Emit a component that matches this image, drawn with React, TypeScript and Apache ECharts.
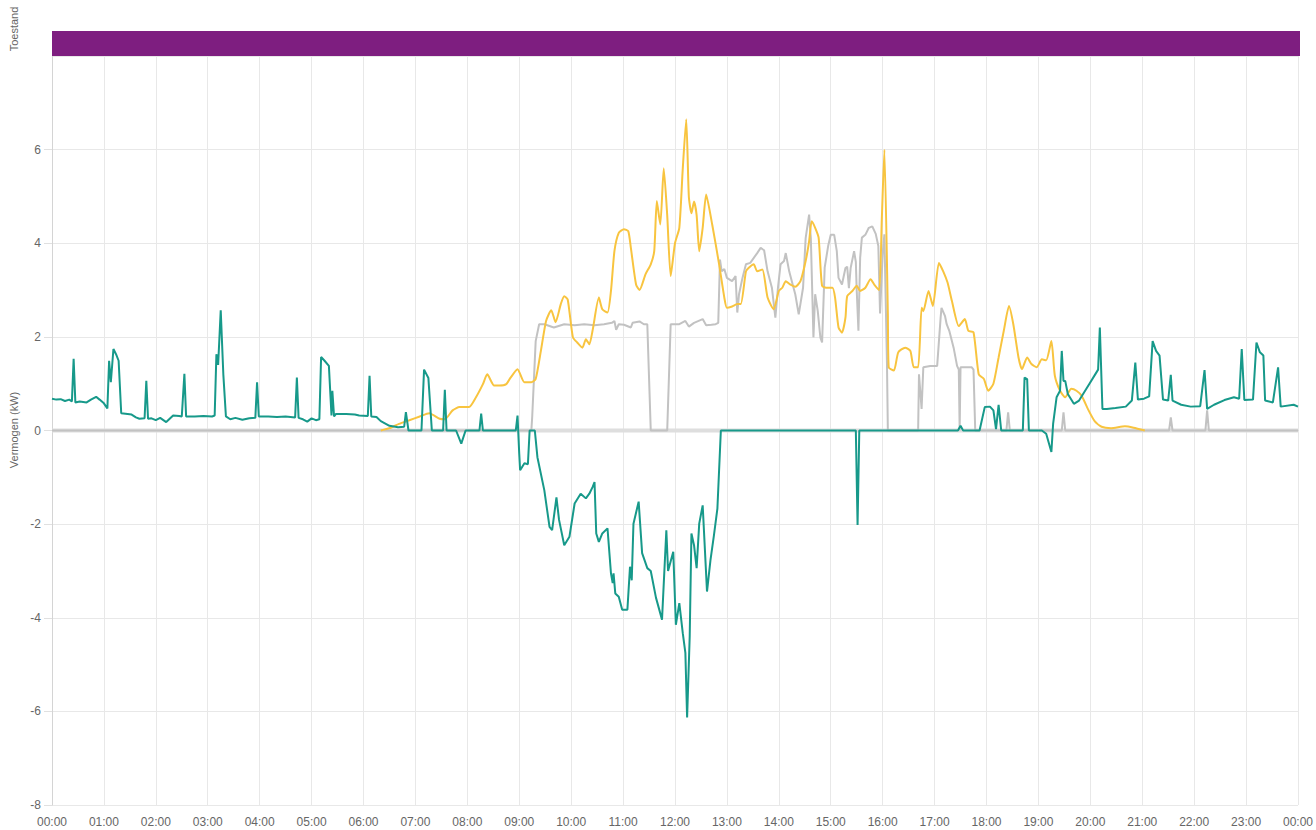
import React, { useEffect, useRef } from "react";
import * as echarts from "echarts";

// time in minutes since 00:00, value in kW
const tealData: [number, number][] = [
  [0, 0.68], [5, 0.66], [10, 0.67], [15, 0.63], [20, 0.66], [23, 0.62], [25, 1.53], [27, 0.6], [32, 0.62], [40, 0.6],
  [45, 0.66], [51, 0.72], [55, 0.66], [60, 0.58], [64, 0.47], [66, 1.49], [68, 1.03], [71, 1.74], [74, 1.63], [77, 1.49],
  [80, 0.37], [85, 0.36], [92, 0.34], [97, 0.28], [101, 0.25], [107, 0.26], [109, 1.06], [111, 0.25], [115, 0.26], [120, 0.22],
  [125, 0.27], [132, 0.18], [136, 0.25], [140, 0.32], [147, 0.31], [150, 0.3], [153, 1.21], [155, 0.3], [165, 0.3], [175, 0.31],
  [185, 0.3], [188, 0.32], [190, 1.63], [192, 1.4], [195, 2.57], [198, 1.2], [201, 0.3], [206, 0.24], [212, 0.27], [220, 0.23],
  [228, 0.26], [235, 0.27], [237, 1.03], [239, 0.3], [250, 0.3], [260, 0.29], [270, 0.3], [281, 0.28], [283, 1.13], [285, 0.27],
  [290, 0.24], [295, 0.19], [300, 0.26], [305, 0.22], [309, 0.24], [311, 1.57], [315, 1.49], [320, 1.38], [323, 0.32], [324, 0.85],
  [326, 0.3], [328, 0.35], [340, 0.35], [350, 0.34], [355, 0.32], [365, 0.31], [367, 1.17], [369, 0.3], [375, 0.29], [380, 0.2],
  [390, 0.1], [400, 0.07], [407, 0.08], [409, 0.39], [412, 0], [427, 0], [430, 1.3], [435, 1.12], [439, 0], [452, 0],
  [454, 0.87], [456, 0], [467, 0], [473, -0.28], [478, 0], [494, 0], [496, 0.36], [498, 0], [536, 0], [538, 0.32],
  [540, -0.5], [541, -0.85], [546, -0.7], [550, -0.72], [552, 0], [558, 0], [561, -0.57], [569, -1.28], [575, -2.06], [578, -2.13],
  [583, -1.43], [586, -1.91], [592, -2.45], [598, -2.27], [604, -1.56], [611, -1.35], [617, -1.45], [621, -1.35], [625, -1.2], [627, -1.1],
  [629, -2.2], [632, -2.38], [636, -2.2], [642, -2.09], [646, -3.05], [648, -3.26], [649, -3.05], [651, -3.48], [655, -3.55], [659, -3.83],
  [665, -3.83], [668, -2.91], [670, -3.2], [672, -1.99], [678, -1.52], [682, -2.62], [688, -2.94], [692, -3.0], [698, -3.57], [705, -4.04],
  [710, -2.13], [712, -3.0], [718, -2.59], [721, -4.15], [725, -3.69], [729, -4.33], [732, -4.75], [734, -6.13], [737, -4.4], [739, -2.2],
  [742, -2.45], [745, -2.94], [748, -1.99], [752, -1.6], [757, -3.44], [761, -2.77], [765, -2.24], [769, -1.67], [773, 0], [929, 0],
  [931, -2.02], [933, 0], [1047, 0], [1050, 0.1], [1053, 0], [1072, 0], [1078, 0.5], [1084, 0.51], [1088, 0.43], [1091, 0.03],
  [1094, 0.55], [1097, 0], [1122, 0], [1124, 1.13], [1127, 1.1], [1129, 0], [1144, 0], [1149, -0.07], [1155, -0.46], [1157, 0.14],
  [1161, 0.71], [1165, 0.85], [1167, 1.7], [1169, 1.06], [1171, 1.06], [1174, 0.78], [1181, 0.57], [1187, 0.64], [1199, 1.0], [1206, 1.21],
  [1209, 1.3], [1211, 2.2], [1214, 0.46], [1219, 0.46], [1229, 0.48], [1241, 0.51], [1248, 0.64], [1252, 1.45], [1255, 0.66], [1262, 0.68],
  [1268, 0.73], [1272, 1.91], [1276, 1.7], [1280, 1.6], [1284, 0.66], [1290, 0.64], [1293, 1.19], [1295, 0.64], [1305, 0.55], [1316, 0.51],
  [1327, 0.52], [1332, 1.29], [1335, 0.46], [1343, 0.55], [1355, 0.65], [1366, 0.71], [1372, 0.68], [1375, 1.74], [1378, 0.65], [1388, 0.66],
  [1392, 1.88], [1396, 1.67], [1400, 1.6], [1402, 0.64], [1411, 0.6], [1417, 1.35], [1420, 0.51], [1435, 0.55], [1440, 0.51],
];

const yellowData: [number, number][] = [
  [380, 0], [390, 0.05], [401, 0.14], [413, 0.22], [425, 0.3], [436, 0.37], [448, 0.25], [454, 0.24], [463, 0.43], [471, 0.5],
  [482, 0.5], [490, 0.71], [498, 0.99], [503, 1.2], [511, 0.96], [517, 0.96], [525, 0.99], [530, 1.13], [538, 1.31], [546, 1.03],
  [554, 1.03], [559, 1.1], [565, 1.7], [571, 2.34], [577, 2.57], [582, 2.31], [588, 2.7], [592, 2.87], [596, 2.8], [602, 1.99],
  [607, 1.88], [613, 1.77], [617, 1.95], [621, 1.84], [625, 2.16], [632, 2.84], [636, 2.59], [642, 2.52], [646, 2.98], [650, 3.83],
  [655, 4.22], [661, 4.3], [666, 4.26], [669, 3.9], [675, 3.12], [679, 3.0], [686, 3.34], [692, 3.55], [696, 3.83], [699, 4.9],
  [703, 4.4], [707, 5.6], [711, 4.6], [715, 3.3], [720, 4.0], [725, 4.33], [729, 5.6], [733, 6.65], [736, 5.0], [739, 4.64],
  [742, 4.89], [745, 4.6], [748, 3.83], [752, 4.33], [756, 5.04], [763, 4.4], [771, 3.55], [777, 2.84], [780, 2.62], [786, 2.65],
  [792, 2.7], [796, 2.7], [802, 3.4], [805, 3.47], [811, 3.55], [815, 3.4], [821, 3.44], [827, 2.84], [834, 2.59], [840, 2.98],
  [844, 3.05], [848, 3.19], [853, 3.12], [859, 3.07], [865, 3.19], [871, 3.62], [875, 4.04], [878, 4.47], [882, 4.33], [886, 4.12],
  [890, 3.09], [896, 3.05], [902, 3.05], [905, 2.84], [909, 2.2], [913, 2.09], [917, 2.41], [919, 2.87], [925, 2.98], [930, 3.09],
  [934, 2.98], [940, 3.05], [946, 3.23], [951, 3.1], [956, 3.0], [959, 4.5], [962, 6.0], [966, 2.5], [967, 1.35], [973, 1.28],
  [978, 1.67], [986, 1.77], [992, 1.7], [996, 1.35], [1001, 1.35], [1005, 2.62], [1007, 2.55], [1013, 2.98], [1018, 2.66], [1025, 3.58],
  [1030, 3.4], [1035, 3.16], [1040, 2.77], [1048, 2.23], [1055, 2.38], [1059, 2.13], [1065, 2.1], [1071, 1.2], [1077, 1.1], [1082, 0.85],
  [1088, 1.0], [1094, 1.56], [1100, 2.13], [1106, 2.66], [1111, 2.27], [1117, 1.56], [1121, 1.31], [1127, 1.56], [1132, 1.42], [1138, 1.35],
  [1144, 1.52], [1149, 1.5], [1155, 1.91], [1159, 1.17], [1165, 0.85], [1171, 0.71], [1178, 0.89], [1184, 0.85], [1190, 0.74], [1198, 0.43],
  [1205, 0.2], [1213, 0.08], [1224, 0.05], [1240, 0.09], [1250, 0.06], [1263, 0],
];

const grayData: [number, number][] = [
  [0, 0], [554, 0], [555, 0.3], [559, 1.91], [563, 2.27], [569, 2.27], [580, 2.2], [592, 2.27], [604, 2.25], [615, 2.27],
  [627, 2.25], [638, 2.27], [647, 2.3], [650, 2.34], [652, 2.15], [655, 2.27], [661, 2.26], [669, 2.2], [671, 2.3], [679, 2.33],
  [684, 2.27], [688, 2.27], [692, 0], [711, 0], [715, 2.27], [725, 2.27], [732, 2.34], [736, 2.22], [742, 2.3], [752, 2.38],
  [756, 2.25], [762, 2.26], [767, 2.27], [770, 2.3], [772, 3.65], [774, 3.4], [777, 3.45], [780, 3.26], [786, 3.19], [790, 3.3],
  [792, 2.52], [794, 2.91], [798, 3.26], [802, 3.55], [807, 3.58], [815, 3.79], [819, 3.9], [823, 3.85], [827, 3.4], [832, 3.05],
  [836, 2.41], [839, 3.05], [842, 3.55], [846, 3.62], [848, 3.79], [852, 3.4], [855, 3.19], [859, 2.91], [863, 2.48], [868, 3.05],
  [871, 4.11], [875, 4.61], [877, 4.11], [878, 3.4], [880, 1.99], [882, 2.91], [885, 2.55], [888, 1.99], [890, 1.88], [893, 3.48],
  [897, 3.94], [900, 4.18], [904, 4.18], [907, 3.83], [909, 3.26], [913, 3.12], [917, 3.47], [919, 3.5], [921, 3.04], [923, 3.47],
  [927, 3.83], [929, 3.6], [930, 3.0], [932, 2.13], [934, 3.69], [936, 4.12], [940, 4.18], [944, 4.33], [948, 4.36], [952, 4.2],
  [955, 3.94], [957, 2.5], [960, 3.77], [962, 4.19], [965, 1.42], [966, 0], [1001, 0], [1002, 1.2], [1005, 0.46], [1007, 1.35],
  [1015, 1.38], [1023, 1.38], [1027, 2.41], [1028, 2.62], [1032, 2.45], [1034, 2.27], [1037, 2.13], [1042, 1.77], [1046, 1.38], [1048, 1.3],
  [1049, 0], [1050, 1.35], [1063, 1.35], [1065, 1.3], [1067, 0], [1103, 0], [1105, 0.39], [1107, 0], [1167, 0], [1169, 0.39],
  [1171, 0], [1291, 0], [1293, 0.28], [1295, 0], [1333, 0], [1335, 0.43], [1337, 0], [1440, 0],
];

const stateData: [number, number][] = [[0, 1], [1440, 1]];
const zeroData: [number, number][] = [[0, 0], [1440, 0]];

const yTicks = [-8, -6, -4, -2, 0, 2, 4, 6, 8];

const FONT = "'Liberation Sans', Arial, sans-serif";

function fmtTime(v: number): string {
  const h = Math.round(v / 60) % 24;
  return (h < 10 ? "0" : "") + h + ":00";
}

export default function App() {
  const ref = useRef<HTMLDivElement>(null);
  useEffect(() => {
    if (!ref.current) return;
    const chart = echarts.init(ref.current, null, { renderer: "svg" });
    chart.setOption({
      animation: false,
      backgroundColor: "#ffffff",
      textStyle: { fontFamily: FONT },
      grid: [
        { left: 52, right: 16, top: 31, height: 25 },
        { left: 52, right: 16, top: 56, bottom: 25 },
      ],
      xAxis: [
        { type: "value", gridIndex: 0, min: 0, max: 1440, show: false },
        {
          type: "value",
          gridIndex: 1,
          min: 0,
          max: 1440,
          interval: 60,
          axisLine: { show: true, lineStyle: { color: "#cccccc" } },
          axisTick: { show: false },
          axisLabel: { color: "#666666", fontSize: 12, fontFamily: FONT, margin: 11, formatter: fmtTime },
          splitLine: { show: true, lineStyle: { color: "#e8e8e8", width: 1 } },
        },
      ],
      yAxis: [
        { type: "value", gridIndex: 0, min: 0, max: 1, show: false },
        {
          type: "value",
          gridIndex: 1,
          min: yTicks[0],
          max: yTicks[yTicks.length - 1],
          interval: 2,
          axisLine: { show: true, lineStyle: { color: "#d4d4d4" } },
          axisTick: { show: true, length: 8, lineStyle: { color: "#e0e0e0" } },
          axisLabel: {
            color: "#666666",
            fontSize: 12,
            fontFamily: FONT,
            margin: 11,
            showMaxLabel: false,
            formatter: (v: number) => (v === 8 ? "" : String(v)),
          },
          splitLine: { show: true, lineStyle: { color: "#e8e8e8", width: 1 } },
        },
      ],
      graphic: [
        {
          type: "text",
          x: 14,
          y: 29,
          rotation: Math.PI / 2,
          style: { text: "Toestand", fill: "#666666", fontSize: 11, fontFamily: FONT, align: "center", verticalAlign: "middle" },
        },
        {
          type: "text",
          x: 14,
          y: 430,
          rotation: Math.PI / 2,
          style: { text: "Vermogen (kW)", fill: "#666666", fontSize: 11, fontFamily: FONT, align: "center", verticalAlign: "middle" },
        },
      ],
      series: [
        {
          type: "line",
          xAxisIndex: 0,
          yAxisIndex: 0,
          data: stateData,
          symbol: "none",
          lineStyle: { width: 0 },
          areaStyle: { color: "#7e1e80", opacity: 1 },
          silent: true,
        },
        {
          type: "line",
          xAxisIndex: 1,
          yAxisIndex: 1,
          data: zeroData,
          symbol: "none",
          z: 1,
          silent: true,
          lineStyle: { color: "#dedede", width: 4 },
        },
        {
          name: "gray",
          type: "line",
          xAxisIndex: 1,
          yAxisIndex: 1,
          data: grayData,
          symbol: "none",
          z: 2,
          lineStyle: { color: "#c2c2c2", width: 2 },
        },
        {
          name: "yellow",
          type: "line",
          xAxisIndex: 1,
          yAxisIndex: 1,
          data: yellowData,
          symbol: "none",
          smooth: 0.2,
          z: 3,
          lineStyle: { color: "#f8c43f", width: 2 },
        },
        {
          name: "teal",
          type: "line",
          xAxisIndex: 1,
          yAxisIndex: 1,
          data: tealData,
          symbol: "none",
          z: 4,
          lineStyle: { color: "#17998a", width: 2 },
        },
      ],
    });
    return () => chart.dispose();
  }, []);
  return <div ref={ref} style={{ position: "fixed", left: 0, top: 0, width: 1316, height: 830 }} />;
}
